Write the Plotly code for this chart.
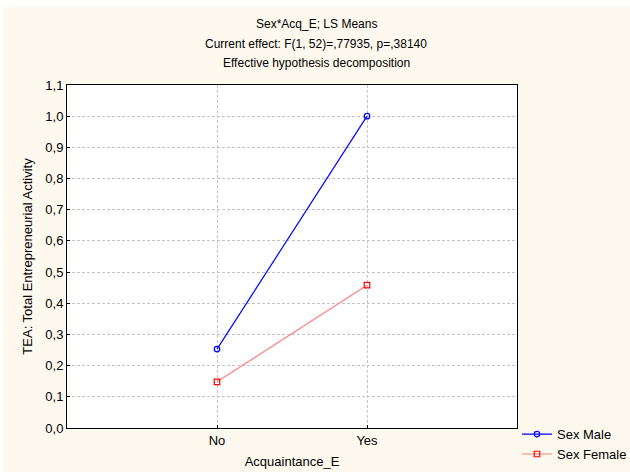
import plotly.graph_objects as go

categories = ["No", "Yes"]
male = [0.253, 1.0]
female = [0.148, 0.458]
yticks = [0.0, 0.1, 0.2, 0.3, 0.4, 0.5, 0.6, 0.7, 0.8, 0.9, 1.0, 1.1]
ytick_labels = ["0,0", "0,1", "0,2", "0,3", "0,4", "0,5", "0,6", "0,7", "0,8", "0,9", "1,0", "1,1"]
title_lines = ["Sex*Acq_E; LS Means",
               "Current effect: F(1, 52)=,77935, p=,38140",
               "Effective hypothesis decomposition"]

fig = go.Figure()
fig.add_trace(go.Scatter(x=categories, y=male, name="Sex Male", mode="lines+markers",
                         line=dict(color="#0000FF", width=1.2),
                         marker=dict(symbol="circle-open", size=5.5, color="#0000FF", line=dict(width=1.2))))
fig.add_trace(go.Scatter(x=categories, y=female, name="Sex Female", mode="lines+markers",
                         line=dict(color="#FF8080", width=1.2),
                         marker=dict(symbol="square-open", size=5.5, color="#FF0000", line=dict(width=1.2))))

W, Hfig = 627, 465
ML, MR, MT, MB = 64, 113, 78, 44
H = Hfig - MT - MB
PW = W - ML - MR
for txt, ypix in zip(title_lines, [17, 37, 56]):
    fig.add_annotation(text=txt, xref="paper", yref="paper", x=(313 - ML) / PW,
                       y=1 + (MT - ypix) / H, showarrow=False, xanchor="center", yanchor="middle",
                       font=dict(size=12))

fig.update_layout(
    width=W, height=Hfig,
    paper_bgcolor="#FDF9EF", plot_bgcolor="white",
    font=dict(family="Liberation Sans, Arial", size=12, color="black"),
    margin=dict(l=ML, r=MR, t=MT, b=MB, autoexpand=False),
    showlegend=True,
    legend=dict(x=1.0, y=-0.12, xanchor="left", yanchor="bottom", bgcolor="rgba(0,0,0,0)",
                font=dict(size=13), tracegroupgap=0, itemwidth=30),
)
fig.update_xaxes(type="category", categoryorder="array", categoryarray=categories,
                 range=[-1, 2], showgrid=True, gridcolor="#C4C4C4", griddash="3px,2px", gridwidth=1,
                 showline=True, linecolor="black", linewidth=1, mirror=True,
                 ticks="inside", ticklen=3, tickcolor="black", automargin=False,
                 tickfont=dict(size=13),
                 title=dict(text="Acquaintance_E", standoff=10, font=dict(size=13)))
fig.update_yaxes(range=[0, 1.1], tickvals=yticks, ticktext=ytick_labels,
                 showgrid=True, gridcolor="#C4C4C4", griddash="3px,2px", gridwidth=1,
                 showline=True, linecolor="black", linewidth=1, mirror=True,
                 ticks="inside", ticklen=3, tickcolor="black", zeroline=False, automargin=False,
                 tickfont=dict(size=13),
                 title=dict(text="TEA: Total Entrepreneurial Activity", standoff=9, font=dict(size=13)))

fig.write_html("out.html", post_script="document.body.style.margin='7px 0 0 3px';document.body.style.background='white';")
